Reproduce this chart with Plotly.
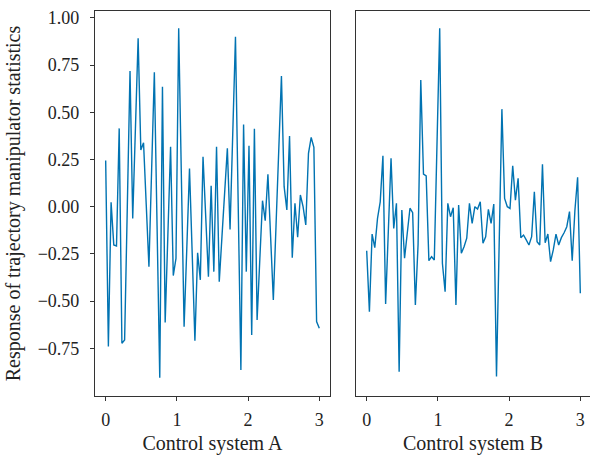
import numpy as np
import plotly.graph_objects as go

n_points = 80
x_values = np.linspace(0, 3, n_points)

system_a = [
    0.245, -0.741, 0.023, -0.203, -0.208, 0.415, -0.724, -0.706, 0.0, 0.719,
    -0.062, 0.41, 0.892, 0.30, 0.339, 0.01, -0.318, 0.2, 0.712, -0.1,
    -0.906, 0.636, -0.614, -0.15, 0.318, -0.365, -0.274, 0.945, 0.15, -0.636,
    -0.22, 0.203, -0.25, -0.71, -0.244, -0.388, 0.265, -0.05, -0.371, 0.111,
    -0.344, 0.318, -0.397, -0.16, 0.07, 0.309, -0.12, 0.39, 0.90, 0.02,
    -0.865, 0.436, -0.344, 0.323, -0.68, 0.413, -0.60, -0.28, 0.032, -0.074,
    0.172, -0.16, -0.494, -0.1, 0.3, 0.692, 0.106, -0.017, 0.374, -0.27,
    0.018, -0.162, 0.062, 0.0, -0.097, 0.283, 0.367, 0.315, -0.609, -0.644,
]

system_b = [
    -0.233, -0.556, -0.145, -0.217, -0.062, 0.026, 0.27, -0.515, -0.13, 0.256,
    -0.115, 0.018, -0.874, -0.017, -0.273, -0.141, -0.008, -0.032, -0.521, -0.2,
    0.671, 0.173, 0.163, -0.286, -0.265, -0.282, 0.33, 0.945, -0.30, -0.45,
    0.018, -0.053, -0.005, -0.521, 0.009, -0.247, -0.212, -0.167, 0.018, -0.088,
    0.0, -0.012, 0.026, -0.194, -0.159, -0.014, -0.088, 0.014, -0.90, -0.19,
    0.517, 0.044, 0.0, -0.009, 0.217, 0.035, 0.15, -0.164, -0.15, -0.176,
    -0.203, -0.159, 0.079, -0.185, -0.203, 0.225, -0.191, -0.145, -0.291, -0.229,
    -0.145, -0.203, -0.164, -0.138, -0.106, -0.026, -0.286, -0.02, 0.156, -0.459,
]

x_ticks = [0, 1, 2, 3]
y_ticks = [1.00, 0.75, 0.50, 0.25, 0.00, -0.25, -0.50, -0.75]
panel_titles = ["Control system A", "Control system B"]
y_title = "Response of trajectory manipulator statistics"

line_color = "#0173B2"
axis_color = "#333333"
font_family = "Liberation Serif, Times New Roman, serif"

fig = go.Figure()
fig.add_trace(go.Scatter(x=x_values, y=system_a, mode="lines",
                         line=dict(color=line_color, width=1.4),
                         xaxis="x", yaxis="y", showlegend=False))
fig.add_trace(go.Scatter(x=x_values, y=system_b, mode="lines",
                         line=dict(color=line_color, width=1.4),
                         xaxis="x2", yaxis="y2", showlegend=False))

common_x = dict(tickvals=x_ticks, ticks="outside", ticklen=4, tickwidth=1,
                tickcolor=axis_color, showline=True, linecolor=axis_color,
                linewidth=1.2, showgrid=False, zeroline=False, automargin=False,
                ticklabelstandoff=3,
                tickfont=dict(family=font_family, size=18, color="#222"),
                title_font=dict(family=font_family, size=20, color="#222"),
                title_standoff=7)

y_range = [-1.003, 1.037]

fig.update_layout(
    width=590, height=456,
    margin=dict(l=95, r=0, t=11, b=60, autoexpand=False),
    plot_bgcolor="white", paper_bgcolor="white",
    font=dict(family=font_family, color="#222"),
    xaxis=dict(domain=[0, 0.4747], range=[-0.15, 3.15], mirror=True,
               title_text=panel_titles[0], anchor="y", **common_x),
    xaxis2=dict(domain=[0.5273, 1.0], range=[-0.15, 3.136], mirror=True,
                title_text=panel_titles[1], anchor="y2", **common_x),
    yaxis=dict(domain=[0, 1], range=y_range, tickvals=y_ticks, tickformat=".2f",
               ticks="outside", ticklen=4, tickwidth=1, tickcolor=axis_color,
               showline=True, linecolor=axis_color, linewidth=1.2, mirror=True,
               showgrid=False, zeroline=False, anchor="x", automargin=False,
               ticklabelstandoff=7,
               tickfont=dict(family=font_family, size=18, color="#222"),
               title_text=y_title, title_standoff=11,
               title_font=dict(family=font_family, size=20, color="#222")),
    yaxis2=dict(domain=[0, 1], range=y_range, showticklabels=False, ticks="",
                showline=True, linecolor=axis_color, linewidth=1.2, mirror=False,
                showgrid=False, zeroline=False, anchor="x2", automargin=False),
)

fig.write_html(
    "out.html",
    config={"displayModeBar": False},
    post_script="document.body.style.margin='0';"
                "document.documentElement.style.overflow='hidden';",
)
